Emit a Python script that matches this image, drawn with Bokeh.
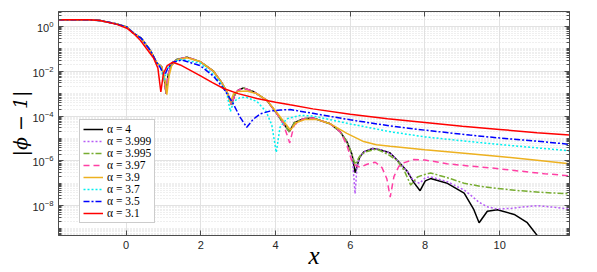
from bokeh.plotting import figure
from bokeh.models import (FixedTicker, LinearAxis, LogAxis, Range1d, Legend,
                          LegendItem, CustomJSTickFormatter)
from bokeh.embed import file_html
from bokeh.resources import INLINE

# ---------------- data (x, log10|phi-1|) ----------------
head_x = [-1.81, -1.0, -0.7, -0.25, 0.02, 0.2, 0.4, 0.64, 0.82]
head_y = [0.30, 0.30, 0.26, 0.11, -0.03, -0.30, -0.52, -1.05, -1.62]

mid4_x = [0.95, 1.02, 1.07, 1.12, 1.2, 1.35, 1.63, 1.98, 2.34, 2.56, 2.72, 2.82, 2.92,
          3.0, 3.14, 3.4, 3.77, 4.04, 4.2]
mid4_y = [-1.8, -2.3, -3.0, -2.2, -1.75, -1.48, -1.37, -1.57, -2.0, -2.51, -3.0, -3.5, -3.0,
          -2.85, -2.75, -2.9, -3.3, -3.9, -4.3]

tail4_x = [4.37, 4.5, 4.75, 5.0, 5.46, 5.73, 5.91, 6.05]
tail4_y = [-4.7, -4.3, -4.12, -4.09, -4.34, -4.7, -5.14, -5.72]

black_x = [6.13, 6.25, 6.36, 6.6, 6.8, 7.07, 7.26, 7.52, 7.7, 7.87, 8.01, 8.15, 8.6, 9.05,
           9.31, 9.45, 9.67, 9.94, 10.39, 10.74, 11.01, 11.15]
black_y = [-6.53, -5.85, -5.6, -5.45, -5.5, -5.65, -5.97, -6.45, -6.96, -7.33, -6.89, -6.79,
           -7.0, -7.44, -8.18, -8.76, -8.25, -8.18, -8.39, -8.76, -9.34, -9.8]

purple_x = [6.13, 6.18, 6.25, 6.36, 6.6, 6.8, 7.07, 7.26, 7.52, 7.7, 7.86, 8.01, 8.15, 8.6,
            9.05, 9.31, 9.45, 9.67, 9.94, 10.3, 10.6, 11.0, 11.4, 11.87]
purple_y = [-7.47, -6.3, -5.85, -5.6, -5.45, -5.5, -5.65, -5.97, -6.45, -6.9, -7.0, -6.75,
            -6.71, -6.93, -7.3, -7.65, -7.85, -8.05, -8.15, -8.12, -8.06, -8.0, -8.06, -8.15]

green_x = [6.13, 6.25, 6.4, 6.7, 7.0, 7.26, 7.45, 7.62, 7.8, 7.97, 8.15, 8.6, 9.05, 9.5,
           9.94, 10.4, 10.83, 11.4, 11.87]
green_y = [-6.16, -5.8, -5.6, -5.47, -5.7, -5.99, -6.45, -7.08, -6.72, -6.62, -6.54, -6.75,
           -7.0, -7.14, -7.23, -7.31, -7.37, -7.43, -7.47]

pink_x = [4.38, 4.5, 4.75, 5.0, 5.46, 5.73, 5.91, 6.04, 6.15, 6.27, 6.45, 6.67, 6.85, 6.98,
          7.07, 7.17, 7.3, 7.43, 7.7, 8.0, 8.59, 9.2, 9.75, 10.5, 11.2, 11.87]
pink_y = [-5.2, -4.4, -4.12, -4.09, -4.34, -4.7, -5.3, -6.0, -6.22, -6.28, -6.15, -6.06,
          -6.3, -6.8, -7.62, -6.7, -6.25, -6.09, -5.94, -5.96, -6.13, -6.23, -6.31, -6.45,
          -6.57, -6.67]

orange_x = [0.95, 1.03, 1.09, 1.15, 1.22, 1.35, 1.63, 1.98, 2.34, 2.56, 2.7, 2.79, 2.88, 3.0,
            3.23, 3.5, 3.77, 4.04, 4.2, 4.4, 4.55, 4.8, 5.1, 5.46, 5.91, 6.36, 6.7, 7.07, 8.0,
            9.2, 10.0, 11.0, 11.87]
orange_y = [-1.8, -2.3, -3.05, -2.2, -1.75, -1.5, -1.4, -1.57, -2.0, -2.51, -2.9, -3.39, -3.0,
            -2.9, -2.88, -3.0, -3.3, -3.85, -4.2, -4.63, -4.3, -4.15, -4.15, -4.34, -4.77,
            -5.14, -5.28, -5.35, -5.5, -5.68, -5.8, -5.97, -6.13]

cyan_x = [0.92, 0.97, 1.02, 1.08, 1.15, 1.3, 1.5, 1.98, 2.34, 2.56, 2.7, 2.79, 2.88, 3.05,
          3.23, 3.5, 3.75, 3.9, 4.02, 4.12, 4.3, 4.66, 5.0, 6.0, 7.07, 8.0, 9.2, 10.0, 11.0,
          11.87]
cyan_y = [-1.8, -2.1, -2.4, -2.0, -1.75, -1.55, -1.47, -1.64, -2.15, -2.59, -3.0, -3.8, -3.35,
          -3.18, -3.17, -3.35, -3.8, -4.4, -5.62, -4.5, -4.12, -3.97, -4.0, -4.35, -4.7,
          -4.93, -5.14, -5.27, -5.42, -5.55]

blue_x = [0.92, 0.98, 1.04, 1.12, 1.25, 1.5, 1.98, 2.34, 2.61, 2.87, 3.05, 3.23, 3.4, 3.59,
          3.85, 4.13, 4.39, 5.0, 6.0, 7.07, 8.0, 9.2, 10.0, 11.0, 11.87]
blue_y = [-1.85, -2.05, -2.15, -1.85, -1.6, -1.5, -1.75, -2.22, -2.77, -3.46, -4.05, -4.5,
          -4.15, -3.9, -3.78, -3.73, -3.71, -3.88, -4.17, -4.44, -4.63, -4.85, -4.98, -5.12,
          -5.26]

red_x = [-1.81, -1.0, -0.7, -0.25, 0.02, 0.2, 0.38, 0.55, 0.73, 0.85, 0.93, 1.0, 1.1, 1.25,
         1.45, 1.98, 2.3, 2.61, 3.0, 3.5, 4.0, 4.39, 5.0, 6.0, 7.0, 8.0, 9.0, 10.0, 11.0, 11.87]
red_y = [0.30, 0.30, 0.26, 0.09, -0.08, -0.32, -0.62, -1.0, -1.4, -1.85, -2.92, -2.1, -1.75,
         -1.6, -1.72, -2.2, -2.5, -2.77, -3.0, -3.22, -3.38, -3.5, -3.68, -3.92, -4.12, -4.29,
         -4.46, -4.6, -4.74, -4.85]

labels = ["α = 4", "α = 3.999", "α = 3.995", "α = 3.97", "α = 3.9", "α = 3.7", "α = 3.5", "α = 3.1"]

x_ticks = [0, 2, 4, 6, 8, 10]
y_tick_exps = [-8, -6, -4, -2, 0]

# ---------------- assemble series ----------------
series_x = [
    head_x + mid4_x + tail4_x + black_x,
    head_x + mid4_x + tail4_x + purple_x,
    head_x + mid4_x + tail4_x + green_x,
    head_x + mid4_x + pink_x,
    head_x + orange_x,
    head_x + cyan_x,
    head_x + blue_x,
    red_x,
]
series_ly = [
    head_y + mid4_y + tail4_y + black_y,
    head_y + mid4_y + tail4_y + purple_y,
    head_y + mid4_y + tail4_y + green_y,
    head_y + mid4_y + pink_y,
    head_y + orange_y,
    head_y + cyan_y,
    head_y + blue_y,
    red_y,
]
colors = ["#000000", "#b65cf5", "#77ac30", "#ff3fa4", "#edb120", "#00f0f0", "#0000ff", "#ff0000"]
dashes = ["solid", "2 2", "6 2 2 2", "6 4", "solid", "2 2", "6 2 2 2", "solid"]

y_lo, y_hi = 10 ** -9.33, 10 ** 0.665

p = figure(width=596, height=271, x_range=Range1d(-1.81, 11.87),
           y_range=Range1d(y_lo, y_hi), y_axis_type="log",
           output_backend="svg", toolbar_location=None,
           min_border_left=58, min_border_right=27, min_border_top=11, min_border_bottom=32)
p.outline_line_color = "#4d4d4d"
p.background_fill_color = "white"
p.border_fill_color = "white"

y_ticks = [10.0 ** e for e in y_tick_exps]
y_minor = [k * 10.0 ** e for e in range(-10, 1) for k in range(1, 10)]

p.xaxis.ticker = FixedTicker(ticks=x_ticks, minor_ticks=[])
p.yaxis.ticker = FixedTicker(ticks=y_ticks, minor_ticks=y_minor)

for ax in (p.xaxis[0], p.yaxis[0]):
    ax.major_label_text_font = "Liberation Sans"
    ax.major_label_text_font_size = "11px"
    ax.major_label_text_color = "#262626"
    ax.axis_line_color = "#4d4d4d"
    ax.major_tick_line_color = "#4d4d4d"
    ax.minor_tick_line_color = "#4d4d4d"
    ax.major_tick_in = 5
    ax.major_tick_out = 0
    ax.minor_tick_in = 3
    ax.minor_tick_out = 0
    ax.major_label_standoff = 5

p.xaxis.axis_label = "x"
p.xaxis.axis_label_text_font = "Liberation Serif"
p.xaxis.axis_label_text_font_style = "italic"
p.xaxis.axis_label_text_font_size = "25px"
p.xaxis.axis_label_text_color = "#000000"
p.xaxis.axis_label_standoff = -10

p.yaxis.axis_label = "|ϕ − 1|"
p.yaxis.axis_label_text_font = "DejaVu Serif"
p.yaxis.axis_label_text_font_style = "italic"
p.yaxis.axis_label_text_font_size = "19px"
p.yaxis.axis_label_text_color = "#000000"
p.yaxis.axis_label_standoff = -2

empty = CustomJSTickFormatter(code="return ''")
top = LinearAxis(ticker=FixedTicker(ticks=x_ticks, minor_ticks=[]), formatter=empty,
                 major_tick_in=5, major_tick_out=0, minor_tick_in=0, minor_tick_out=0,
                 major_label_text_font_size="0px", major_label_standoff=0,
                 axis_line_color="#4d4d4d", major_tick_line_color="#4d4d4d")
right = LogAxis(ticker=FixedTicker(ticks=y_ticks, minor_ticks=y_minor), formatter=empty,
                major_tick_in=5, major_tick_out=0, minor_tick_in=3, minor_tick_out=0,
                major_label_text_font_size="0px", major_label_standoff=0,
                axis_line_color="#4d4d4d", major_tick_line_color="#4d4d4d",
                minor_tick_line_color="#4d4d4d")
p.add_layout(top, "above")
p.add_layout(right, "right")

p.xgrid.grid_line_color = "#e2e2e2"
p.ygrid.grid_line_color = "#e2e2e2"
p.ygrid.minor_grid_line_color = "#dedede"
p.ygrid.minor_grid_line_dash = "1 2"

items = []
for xs, lys, c, d, lab in zip(series_x, series_ly, colors, dashes, labels):
    ys = [10.0 ** v for v in lys]
    r = p.line(xs, ys, line_color=c, line_width=1.5, line_dash=d)
    items.append(LegendItem(label=lab, renderers=[r]))

legend = Legend(items=items, location=(21, 12))
legend.label_text_font = "Liberation Serif"
legend.label_text_font_size = "11.5px"
legend.label_text_color = "#000000"
legend.glyph_width = 20
legend.glyph_height = 10
legend.label_height = 10
legend.label_standoff = 4
legend.spacing = 0
legend.padding = 3
legend.margin = 0
legend.border_line_color = "#9a9a9a"
legend.border_line_width = 1
legend.background_fill_alpha = 1.0
p.add_layout(legend, "center")

open("out.html", "w").write(file_html(p, INLINE))
